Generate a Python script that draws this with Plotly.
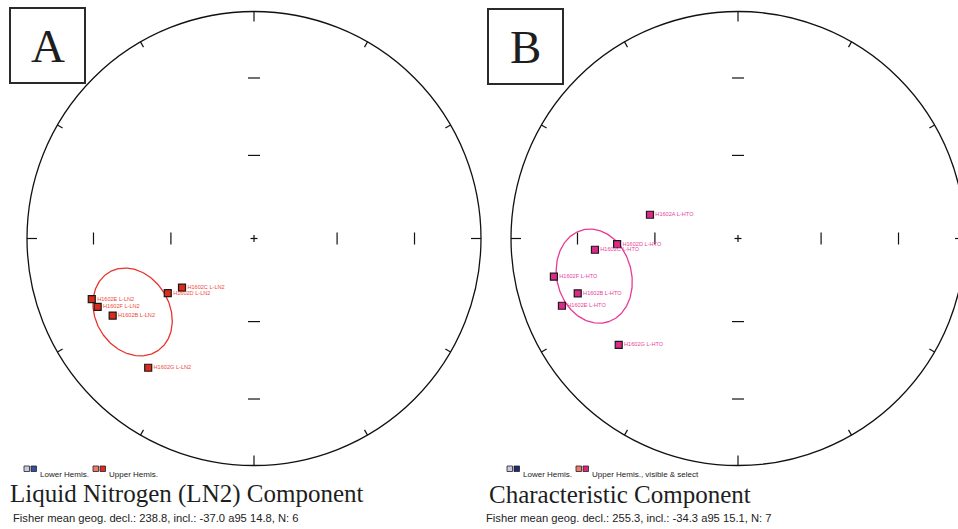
import numpy as np
import plotly.graph_objects as go

# ---- Panel A: liquid-nitrogen (LN2) component, upper-hemisphere directions ----
ln2_names = ["H1602C L-LN2", "H1602D L-LN2", "H1602E L-LN2", "H1602F L-LN2",
             "H1602B L-LN2", "H1602G L-LN2"]
ln2_decl = [235.7, 237.6, 249.5, 246.4, 241.4, 219.3]
ln2_incl = [-58.5, -52.9, -24.7, -25.8, -29.8, -27.3]
ln2_mean_decl, ln2_mean_incl, ln2_a95, ln2_n = 238.8, -37.0, 14.8, 6

# ---- Panel B: characteristic (HTO) component, upper-hemisphere directions ----
hto_names = ["H1602A L-HTO", "H1602D L-HTO", "H1602C L-HTO", "H1602F L-HTO",
             "H1602B L-HTO", "H1602E L-HTO", "H1602G L-HTO"]
hto_decl = [285.1, 267.3, 265.5, 258.3, 251.1, 249.1, 228.3]
hto_incl = [-57.0, -45.7, -36.9, -18.3, -26.3, -18.1, -30.3]
hto_mean_decl, hto_mean_incl, hto_a95, hto_n = 255.3, -34.3, 15.1, 7

# inclination rings marked along the cardinal axes
ring_incl = [30, 60]

W, H = 958, 529
R_PX = 227.0                      # net radius in pixels
CA = (254.0, 238.5)               # net A centre (pixels)
CB = (738.0, 238.5)               # net B centre (pixels)


def eq_area(decl, incl):
    """Lambert equal-area (Schmidt) projection, unit primitive circle."""
    d = np.radians(np.asarray(decl, float))
    p = np.radians(90.0 - np.abs(np.asarray(incl, float)))
    r = np.sqrt(2.0) * np.sin(p / 2.0)
    return r * np.sin(d), r * np.cos(d)


def small_circle(decl, incl, radius, n=241):
    """Cone of confidence around a direction, returned as decl/incl arrays."""
    D, I = np.radians(decl), np.radians(incl)
    m = np.array([np.cos(I) * np.cos(D), np.cos(I) * np.sin(D), np.sin(I)])
    ref = np.array([0.0, 0.0, 1.0]) if abs(m[2]) < 0.9 else np.array([1.0, 0.0, 0.0])
    u = np.cross(m, ref); u /= np.linalg.norm(u)
    v = np.cross(m, u)
    t = np.linspace(0, 2 * np.pi, n)
    a = np.radians(radius)
    pts = (np.cos(a) * m[:, None]
           + np.sin(a) * (np.cos(t) * u[:, None] + np.sin(t) * v[:, None]))
    dec = np.degrees(np.arctan2(pts[1], pts[0])) % 360
    inc = np.degrees(np.arcsin(np.clip(pts[2], -1, 1)))
    return dec, inc


def net_frame():
    """Tick marks of the net: rim ticks, inclination ticks, centre cross."""
    xs, ys = [], []
    for az in range(0, 360, 30):
        L = (10 if az % 90 == 0 else 6) / R_PX
        s, c = np.sin(np.radians(az)), np.cos(np.radians(az))
        xs += [s, (1 - L) * s, None]
        ys += [c, (1 - L) * c, None]
    h = 6 / R_PX
    for inc in ring_incl:
        r = float(np.sqrt(2) * np.sin(np.radians((90 - inc) / 2)))
        for sgn in (1, -1):
            xs += [sgn * r, sgn * r, None]; ys += [-h, h, None]
            xs += [-h, h, None]; ys += [sgn * r, sgn * r, None]
    c = 3.5 / R_PX
    xs += [-c, c, None, 0, 0, None]
    ys += [0, 0, None, -c, c, None]
    return xs, ys


fig = go.Figure()

panels = [
    dict(xa="x", ya="y", names=ln2_names, decl=ln2_decl, incl=ln2_incl,
         mean=(ln2_mean_decl, ln2_mean_incl, ln2_a95),
         fill="#dc2a1c", text="#ef4a3a", ring="#e8322a"),
    dict(xa="x2", ya="y2", names=hto_names, decl=hto_decl, incl=hto_incl,
         mean=(hto_mean_decl, hto_mean_incl, hto_a95),
         fill="#dd2a88", text="#e8449c", ring="#e83a94"),
]

for p in panels:
    fx, fy = net_frame()
    fig.add_trace(go.Scatter(x=fx, y=fy, mode="lines", xaxis=p["xa"], yaxis=p["ya"],
                             line=dict(color="#111111", width=1.2),
                             hoverinfo="skip", showlegend=False))
    ed, ei = small_circle(*p["mean"])
    ex, ey = eq_area(ed, ei)
    fig.add_trace(go.Scatter(x=ex, y=ey, mode="lines", xaxis=p["xa"], yaxis=p["ya"],
                             line=dict(color=p["ring"], width=1.3),
                             hoverinfo="skip", showlegend=False))
    px_, py_ = eq_area(p["decl"], p["incl"])
    fig.add_trace(go.Scatter(x=px_, y=py_, mode="markers+text", xaxis=p["xa"], yaxis=p["ya"],
                             text=p["names"], textposition="middle right",
                             textfont=dict(family="Liberation Sans, Arial", size=5.6,
                                           color=p["text"]),
                             marker=dict(symbol="square", size=7, color=p["fill"],
                                         line=dict(color="#1a1a1a", width=1.2)),
                             cliponaxis=False, showlegend=False))


def axis_range(c):
    xr = [(0 - c[0]) / R_PX, (W - c[0]) / R_PX]
    yr = [-(H - c[1]) / R_PX, c[1] / R_PX]
    return xr, yr


xra, yra = axis_range(CA)
xrb, yrb = axis_range(CB)
hidden = dict(visible=False, showgrid=False, zeroline=False, fixedrange=True)

shapes = []
for xa, ya in (("x", "y"), ("x2", "y2")):
    shapes.append(dict(type="circle", xref=xa, yref=ya, x0=-1, y0=-1, x1=1, y1=1,
                       line=dict(color="#111111", width=1.3), layer="below"))


def px(x):
    return x / W


def py(y):
    return 1 - y / H


# panel letter boxes
for (x0, y0, x1, y1, letter) in ((10, 8, 85, 83, "A"), (488, 9, 563, 84, "B")):
    shapes.append(dict(type="rect", xref="paper", yref="paper",
                       x0=px(x0), x1=px(x1), y0=py(y1), y1=py(y0),
                       line=dict(color="#2a2a2a", width=2)))

annotations = [
    dict(text="A", x=px(47.5), y=py(46), xref="paper", yref="paper", showarrow=False,
         xanchor="center", yanchor="middle",
         font=dict(family="Liberation Serif, Times New Roman", size=47, color="#1e1e1e")),
    dict(text="B", x=px(525.5), y=py(47), xref="paper", yref="paper", showarrow=False,
         xanchor="center", yanchor="middle",
         font=dict(family="Liberation Serif, Times New Roman", size=47, color="#1e1e1e")),
]

# legend swatches: (outline-light colour, filled colour, label)
legend_rows = [
    dict(x=24, y=466, items=[("#c9c9e6", "#3550a0", "Lower Hemis."),
                             ("#f07a6a", "#e02a20", "Upper Hemis.")],
         gaps=[69]),
    dict(x=507, y=466, items=[("#c9c9e6", "#1f2a78", "Lower Hemis."),
                              ("#f07a6a", "#e0247e", "Upper Hemis., visible & select")],
         gaps=[69]),
]
for row in legend_rows:
    x = row["x"]
    for k, (light, dark, label) in enumerate(row["items"]):
        for j, col in enumerate((light, dark)):
            sx = x + j * 7
            shapes.append(dict(type="rect", xref="paper", yref="paper",
                               x0=px(sx), x1=px(sx + 5.5), y0=py(row["y"] + 5.5), y1=py(row["y"]),
                               fillcolor=col, line=dict(color="#222222", width=0.8)))
        annotations.append(dict(text=label, x=px(x + 14), y=py(row["y"] + 8), xref="paper",
                                yref="paper", xanchor="left", yanchor="middle", showarrow=False,
                                font=dict(family="Liberation Sans, Arial", size=8, color="#222222")))
        if k < len(row["gaps"]):
            x += row["gaps"][k]

titles = [
    (8, "Liquid Nitrogen (LN2) Component", 11,
     f"Fisher mean geog. decl.: {ln2_mean_decl:.1f}, incl.: {ln2_mean_incl:.1f} a95 {ln2_a95:.1f}, N: {ln2_n}"),
    (487, "Characteristic Component", 484,
     f"Fisher mean geog. decl.: {hto_mean_decl:.1f}, incl.: {hto_mean_incl:.1f} a95 {hto_a95:.1f}, N: {hto_n}"),
]
for tx, title, sx, stats in titles:
    annotations.append(dict(text=title, x=px(tx), y=py(494), xref="paper", yref="paper",
                            xanchor="left", yanchor="middle", showarrow=False,
                            font=dict(family="Liberation Serif, Times New Roman", size=25,
                                      color="#1e1e1e")))
    annotations.append(dict(text=stats, x=px(sx), y=py(518), xref="paper", yref="paper",
                            xanchor="left", yanchor="middle", showarrow=False,
                            font=dict(family="Liberation Sans, Arial", size=11.2, color="#222222")))

fig.update_layout(
    width=W, height=H, margin=dict(l=0, r=0, t=0, b=0),
    paper_bgcolor="white", plot_bgcolor="rgba(0,0,0,0)",
    xaxis=dict(domain=[0, 1], range=xra, anchor="y", **hidden),
    yaxis=dict(domain=[0, 1], range=yra, anchor="x", **hidden),
    xaxis2=dict(domain=[0, 1], range=xrb, anchor="y2", **hidden),
    yaxis2=dict(domain=[0, 1], range=yrb, anchor="x2", **hidden),
    shapes=shapes, annotations=annotations, showlegend=False,
)

fig.write_html("out.html")
